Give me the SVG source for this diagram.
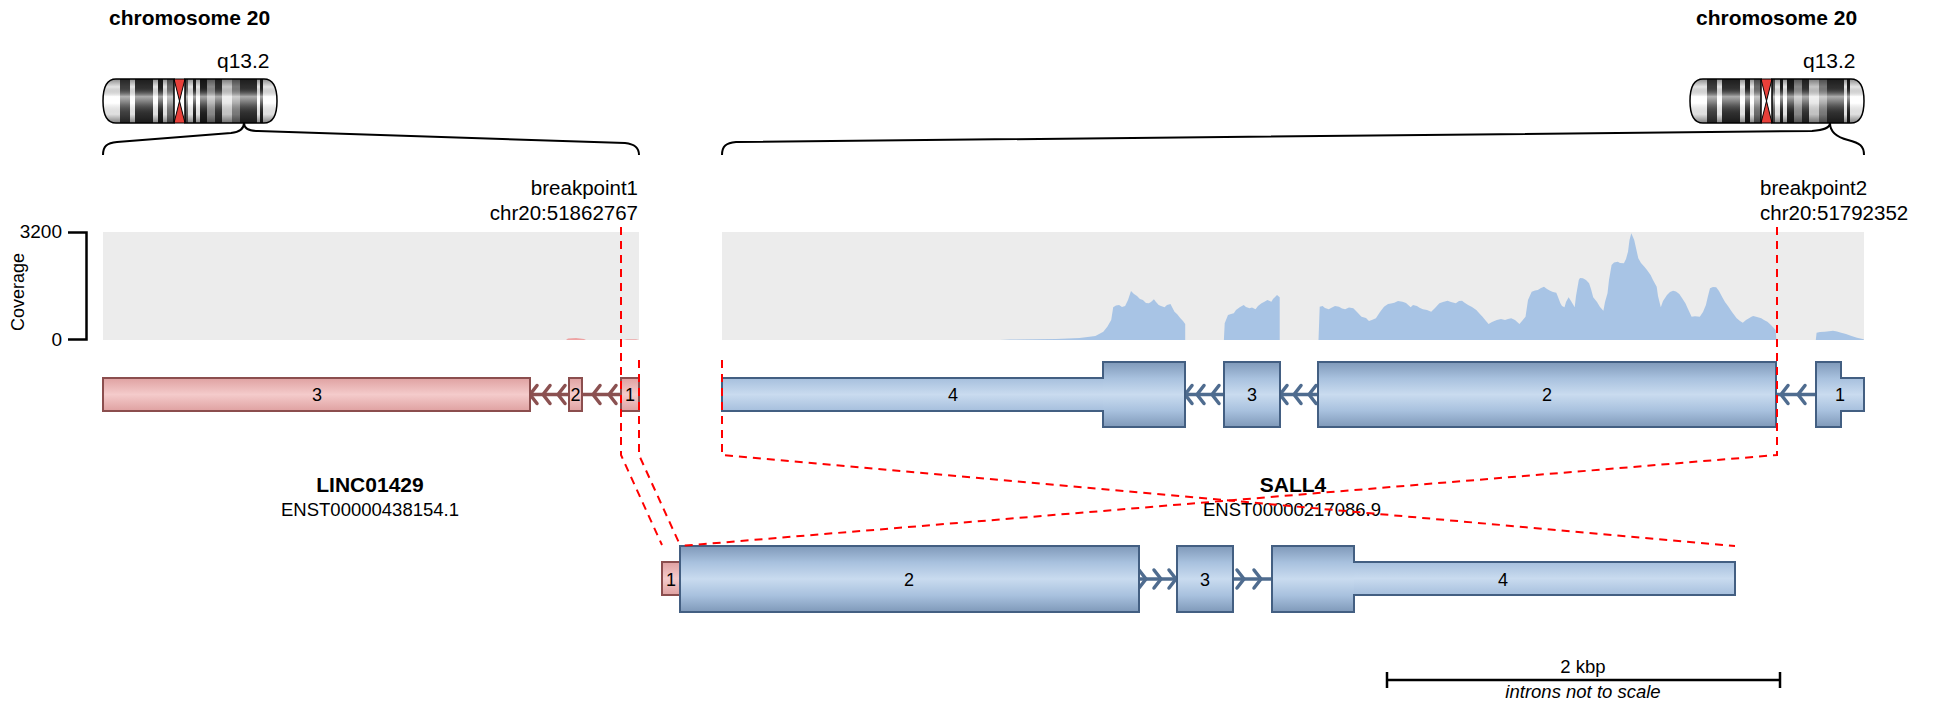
<svg xmlns="http://www.w3.org/2000/svg" xmlns:xlink="http://www.w3.org/1999/xlink" width="1943" height="707" viewBox="0 0 1943 707">
  <style>
    .t { font-family: "Liberation Sans", Arial, sans-serif; fill: #000; }
    .title { font-size: 21px; font-weight: bold; }
    .band { font-size: 21px; }
    .bp { font-size: 20.5px; }
    .ax { font-size: 19px; text-anchor: end; }
    .ex { font-size: 18px; text-anchor: middle; }
    .gn { font-size: 21px; font-weight: bold; text-anchor: middle; }
    .tx { font-size: 18.5px; text-anchor: middle; }
    .sc { font-size: 18.5px; text-anchor: middle; }
    .it { font-style: italic; }
    .bg { fill: #ececec; }
    .cov { fill: #a8c4e5; }
    .covL { fill: #eea3a3; }
    .axis { stroke: #000; stroke-width: 2.5; fill: none; }
    .brace { stroke: #000; stroke-width: 2; fill: none; }
    .exB { fill: url(#gBlue); }
    .exBt { fill: url(#gBlueThin); }
    .exP { fill: url(#gPink); }
    .olB { fill: none; stroke: #435f82; stroke-width: 2; }
    .olP { fill: none; stroke: #8b4e4e; stroke-width: 2; }
    .inB { stroke: #4f6c8f; stroke-width: 3.5; fill: none; }
    .inP { stroke: #8b5151; stroke-width: 3.5; fill: none; }
    .chB { stroke: #4f6c8f; stroke-width: 3.5; fill: none; stroke-linecap: round; stroke-linejoin: round; }
    .chP { stroke: #8b5151; stroke-width: 3.5; fill: none; stroke-linecap: round; stroke-linejoin: round; }
    .dash { stroke: #ff0000; stroke-width: 2; fill: none; stroke-dasharray: 8 6; }
  </style>
  <defs>
    <linearGradient id="gBlue" x1="0" y1="0" x2="0" y2="1">
      <stop offset="0" stop-color="#7f99b9"/>
      <stop offset="0.25" stop-color="#a8c1de"/>
      <stop offset="0.5" stop-color="#c9dbef"/>
      <stop offset="0.75" stop-color="#a8c1de"/>
      <stop offset="1" stop-color="#7f99b9"/>
    </linearGradient>
    <linearGradient id="gBlueThin" x1="0" y1="0" x2="0" y2="1">
      <stop offset="0" stop-color="#a6bfdd"/>
      <stop offset="0.5" stop-color="#c9dbef"/>
      <stop offset="1" stop-color="#a6bfdd"/>
    </linearGradient>
    <linearGradient id="gPink" x1="0" y1="0" x2="0" y2="1">
      <stop offset="0" stop-color="#dfa1a1"/>
      <stop offset="0.5" stop-color="#f4cbcb"/>
      <stop offset="1" stop-color="#dfa1a1"/>
    </linearGradient>
    <linearGradient id="gShade" x1="0" y1="0" x2="0" y2="1">
      <stop offset="0" stop-color="#000" stop-opacity="0.45"/>
      <stop offset="0.18" stop-color="#000" stop-opacity="0.1"/>
      <stop offset="0.4" stop-color="#fff" stop-opacity="0.6"/>
      <stop offset="0.55" stop-color="#fff" stop-opacity="0.3"/>
      <stop offset="0.8" stop-color="#000" stop-opacity="0.12"/>
      <stop offset="1" stop-color="#000" stop-opacity="0.5"/>
    </linearGradient>
    <clipPath id="armClip">
      <path d="M174,79 L116,79 C106,79 103,90 103,101 C103,112 106,123 116,123 L174,123 Z"/>
      <path d="M185,79 L264,79 C274,79 277,90 277,101 C277,112 274,123 264,123 L185,123 Z"/>
    </clipPath>
    <!-- chromosome 20 ideogram, drawn at the left position -->
    <g id="ideogram">
      <g clip-path="url(#armClip)">
        <rect x="103" y="79" width="174" height="44" fill="#ffffff"/>
        <rect x="120" y="79" width="10" height="44" fill="#444"/>
        <rect x="135" y="79" width="18" height="44" fill="#333"/>
        <rect x="158" y="79" width="5" height="44" fill="#222"/>
        <rect x="167" y="79" width="7" height="44" fill="#777"/>
        <rect x="185" y="79" width="3" height="44" fill="#666"/>
        <rect x="193" y="79" width="3" height="44" fill="#222"/>
        <rect x="200" y="79" width="7" height="44" fill="#222"/>
        <rect x="207" y="79" width="8" height="44" fill="#999"/>
        <rect x="215" y="79" width="7" height="44" fill="#333"/>
        <rect x="222" y="79" width="10" height="44" fill="#ddd"/>
        <rect x="232" y="79" width="8" height="44" fill="#888"/>
        <rect x="240" y="79" width="17" height="44" fill="#333"/>
        <rect x="260" y="79" width="3" height="44" fill="#222"/>
        <rect x="103" y="79" width="174" height="44" fill="url(#gShade)"/>
      </g>
      <path d="M174,79 L185,79 L179.5,101 L185,123 L174,123 L179.5,101 Z" fill="#e8403a" stroke="#000" stroke-width="1"/>
      <path d="M174,79 L116,79 C106,79 103,90 103,101 C103,112 106,123 116,123 L174,123 Z" fill="none" stroke="#000" stroke-width="1.5"/>
      <path d="M185,79 L264,79 C274,79 277,90 277,101 C277,112 274,123 264,123 L185,123 Z" fill="none" stroke="#000" stroke-width="1.5"/>
    </g>
    <path id="chevL" d="M4,-9 L-3,0 L4,9"/>
    <path id="chevR" d="M-4,-9 L3,0 L-4,9"/>
  </defs>

  <rect x="0" y="0" width="1943" height="707" fill="#ffffff"/>

  <!-- chromosome headers -->
  <g id="chrom-left">
    <text class="t title" x="109" y="25">chromosome 20</text>
    <text class="t band" x="217" y="68">q13.2</text>
    <use xlink:href="#ideogram"/>
    <path class="brace" d="M103,155 C103,146 107,143 117,142 L231,133 C240,132 244,129 244,123 C244,129 249,131 258,131 L625,143 C634,144 639,147 639,155"/>
  </g>
  <g id="chrom-right">
    <text class="t title" x="1696" y="25">chromosome 20</text>
    <text class="t band" x="1803" y="68">q13.2</text>
    <use xlink:href="#ideogram" transform="translate(1587,0)"/>
    <path class="brace" d="M722,155 C722,146 726,143 736,142 L1812,131 C1824,130 1830,128 1830,123 C1830,131 1836,137 1848,140 C1860,143 1864,146 1864,155"/>
  </g>

  <!-- breakpoint labels -->
  <g id="bp1-label">
    <text class="t bp" x="638" y="195" text-anchor="end">breakpoint1</text>
    <text class="t bp" x="638" y="220" text-anchor="end">chr20:51862767</text>
  </g>
  <g id="bp2-label">
    <text class="t bp" x="1760" y="195">breakpoint2</text>
    <text class="t bp" x="1760" y="220">chr20:51792352</text>
  </g>

  <!-- coverage track -->
  <g id="coverage">
    <rect class="bg" x="103" y="232" width="536" height="108"/>
    <rect class="bg" x="722" y="232" width="1142" height="108"/>
    <path class="covL" d="M566,340 L568,338.5 576,338 584,339 586,340 Z"/>
    <path class="covL" d="M624,340 L627,339.2 636,339.2 639,340 Z"/>
    <path class="cov" d="M1000,340 L1010,339.5 1055.9,339 1079.6,338 1095.4,336 1103.3,331.7 1107.3,326.7 1111.2,320 1113.2,307.3 1116,305.5 1119.1,305 1122,307 1125.1,306 1128,300 1131,291 1134,294 1137,296 1140,299 1142.9,300 1146,303 1148.8,303.3 1151,302 1153.9,299.3 1156,302 1158.7,305 1161,306 1164.6,307.3 1167,305 1170.5,304 1172,307 1174.5,311.7 1177,314 1180.4,318.3 1183,321 1185.2,324 1185.2,340 Z"/>
    <path class="cov" d="M1223.9,340 L1224.7,323.3 1228,315 1231,314 1233.8,313.3 1236,310 1239.7,307.3 1243.7,305 1246,307 1249.6,308.3 1252,307.5 1255.5,309.3 1258,306 1261.5,303.3 1264,302 1267.4,300 1271.4,301.7 1273,299 1275.3,296.7 1277,295 1279.7,297.3 1279.7,340 Z"/>
    <path class="cov" d="M1318.5,340 L1319.7,306.7 1322.6,306 1325,308 1328.7,309.3 1332,307.5 1335,306 1339,306.7 1342,308.5 1345.1,309.3 1349,307.5 1353.3,308.3 1357,312 1361.5,316.7 1366,318 1369,321 1371.8,320 1375.9,318.3 1380,312 1384,306.7 1388,304 1391,303.5 1394.3,302.7 1398,301 1402.5,301.7 1406,303 1410.7,307.3 1413,305 1416.9,306 1420,308 1423,309.3 1427,310 1431.2,311.7 1435,308 1439.4,303.3 1443,302 1447.6,300.7 1451,302 1455.8,303.3 1459,301 1462,300.7 1465,303 1468.1,305 1472,307 1476.3,310 1479,313 1482.5,316.7 1486,321 1488.6,324 1492,322 1496.8,320 1501,319 1505,320 1508,319 1511.2,318.3 1515,320 1519.4,324 1522,321 1525.5,316.7 1528,300 1531.7,291.7 1535,290.5 1537.8,290 1541,288 1544,286.7 1547,289 1550.1,290.7 1553,292 1556.3,292.7 1558,297 1560.4,303.3 1562,306 1564.5,307.3 1566,302 1568.6,297.3 1571,301 1574.7,307.3 1576,296 1578.8,280 1580,278 1582.9,278.3 1586,280 1589.1,283.3 1591,289 1593.2,297.3 1597,302 1600,307 1603.4,310.7 1605,302 1607.5,293.3 1609,280 1611.6,265 1614,262.5 1617.8,261.7 1620,263 1623.9,263.3 1626,259 1628,251.7 1629.5,240 1631.3,233.3 1632.5,236 1634.2,240 1636,248 1638.3,258.3 1641,263 1644.4,266.7 1647,270 1650.6,275 1653,280 1656.7,286.7 1658,296 1660.8,307.3 1663,301 1667,295 1670,292 1673.1,290.7 1676,291.5 1679.3,294 1682,298 1685.4,303.3 1688,309 1691.6,316.7 1695,316.2 1699.8,316.7 1703,312 1705.9,305 1708,296 1710,288.3 1713,287 1716.2,287.3 1719,291 1722.3,297.3 1725,302 1728.5,306.7 1732,312 1736.7,318.3 1740,321 1742.8,322.7 1746,320 1749,318.3 1751,317 1753.1,316 1757,317 1761.3,318.3 1764,320 1767.4,321.7 1771,325 1775.6,330 1776.4,340 Z"/>
    <path class="cov" d="M1815.8,340 L1816.6,332.7 1820,332 1824.8,331.7 1829,331.2 1833,330.7 1837,331.5 1841.2,332.7 1846,334 1851.5,336 1857,337.8 1863.7,339.3 1864,340 Z"/>
  </g>

  <!-- coverage axis -->
  <g id="coverage-axis">
    <path class="axis" d="M68,232.5 H86.5 V339.5 H68"/>
    <text class="t ax" x="62" y="238">3200</text>
    <text class="t ax" x="62" y="346">0</text>
    <text class="t" font-size="18" text-anchor="middle" transform="translate(24,292) rotate(-90)">Coverage</text>
  </g>

  <!-- LINC01429 transcript -->
  <g id="gene-linc01429">
    <line class="inP" x1="530" y1="394.5" x2="569" y2="394.5"/>
    <line class="inP" x1="582" y1="394.5" x2="621" y2="394.5"/>
    <use xlink:href="#chevL" class="chP" x="533" y="394.5"/>
    <use xlink:href="#chevL" class="chP" x="546" y="394.5"/>
    <use xlink:href="#chevL" class="chP" x="561" y="394.5"/>
    <use xlink:href="#chevL" class="chP" x="596" y="394.5"/>
    <use xlink:href="#chevL" class="chP" x="612" y="394.5"/>
    <rect class="exP" x="103" y="378" width="427" height="33"/>
    <rect class="olP" x="103" y="378" width="427" height="33"/>
    <rect class="exP" x="569" y="378" width="13" height="33"/>
    <rect class="olP" x="569" y="378" width="13" height="33"/>
    <rect class="exP" x="621" y="378" width="18" height="33"/>
    <rect class="olP" x="621" y="378" width="18" height="33"/>
    <text class="t ex" x="317" y="401">3</text>
    <text class="t ex" x="575.5" y="401">2</text>
    <text class="t ex" x="630" y="401">1</text>
    <text class="t gn" x="370" y="492">LINC01429</text>
    <text class="t tx" x="370" y="516">ENST00000438154.1</text>
  </g>

  <!-- SALL4 transcript -->
  <g id="gene-sall4">
    <line class="inB" x1="1185" y1="394.5" x2="1224" y2="394.5"/>
    <line class="inB" x1="1280" y1="394.5" x2="1318" y2="394.5"/>
    <line class="inB" x1="1776" y1="394.5" x2="1816" y2="394.5"/>
    <use xlink:href="#chevL" class="chB" x="1188" y="394.5"/>
    <use xlink:href="#chevL" class="chB" x="1200" y="394.5"/>
    <use xlink:href="#chevL" class="chB" x="1215" y="394.5"/>
    <use xlink:href="#chevL" class="chB" x="1283" y="394.5"/>
    <use xlink:href="#chevL" class="chB" x="1297" y="394.5"/>
    <use xlink:href="#chevL" class="chB" x="1312" y="394.5"/>
    <use xlink:href="#chevL" class="chB" x="1784" y="394.5"/>
    <use xlink:href="#chevL" class="chB" x="1801" y="394.5"/>
    <rect class="exBt" x="722" y="378" width="381" height="33"/>
    <rect class="exB" x="1103" y="362" width="82" height="65"/>
    <path class="olB" d="M722,378 H1103 V362 H1185 V427 H1103 V411 H722 Z"/>
    <rect class="exB" x="1224" y="362" width="56" height="65"/>
    <rect class="olB" x="1224" y="362" width="56" height="65"/>
    <rect class="exB" x="1318" y="362" width="458" height="65"/>
    <rect class="olB" x="1318" y="362" width="458" height="65"/>
    <rect class="exB" x="1816" y="362" width="25" height="65"/>
    <rect class="exBt" x="1841" y="378" width="23" height="33"/>
    <path class="olB" d="M1816,362 H1841 V378 H1864 V411 H1841 V427 H1816 Z"/>
    <text class="t ex" x="953" y="401">4</text>
    <text class="t ex" x="1252" y="401">3</text>
    <text class="t ex" x="1547" y="401">2</text>
    <text class="t ex" x="1840" y="401">1</text>
    <text class="t gn" x="1293" y="492">SALL4</text>
    <text class="t tx" x="1292" y="516">ENST00000217086.9</text>
  </g>

  <!-- fusion transcript -->
  <g id="fusion-transcript">
    <line class="inB" x1="1139" y1="579" x2="1177" y2="579"/>
    <line class="inB" x1="1233" y1="579" x2="1272" y2="579"/>
    <use xlink:href="#chevR" class="chB" x="1143" y="579"/>
    <use xlink:href="#chevR" class="chB" x="1158" y="579"/>
    <use xlink:href="#chevR" class="chB" x="1173" y="579"/>
    <use xlink:href="#chevR" class="chB" x="1241" y="579"/>
    <use xlink:href="#chevR" class="chB" x="1258" y="579"/>
    <rect class="exP" x="662" y="562" width="18" height="33"/>
    <rect class="olP" x="662" y="562" width="18" height="33"/>
    <rect class="exB" x="680" y="546" width="459" height="66"/>
    <rect class="olB" x="680" y="546" width="459" height="66"/>
    <rect class="exB" x="1177" y="546" width="56" height="66"/>
    <rect class="olB" x="1177" y="546" width="56" height="66"/>
    <rect class="exB" x="1272" y="546" width="82" height="66"/>
    <rect class="exBt" x="1354" y="562" width="381" height="33"/>
    <path class="olB" d="M1272,546 H1354 V562 H1735 V595 H1354 V612 H1272 Z"/>
    <text class="t ex" x="671" y="585.5">1</text>
    <text class="t ex" x="909" y="585.5">2</text>
    <text class="t ex" x="1205" y="585.5">3</text>
    <text class="t ex" x="1503" y="585.5">4</text>
  </g>

  <!-- scale bar -->
  <g id="scale-bar">
    <path class="axis" d="M1387,672 V688 M1387,680 H1780 M1780,672 V688"/>
    <text class="t sc" x="1583" y="673">2 kbp</text>
    <text class="t sc it" x="1583" y="698">introns not to scale</text>
  </g>

  <!-- breakpoint guides and projections onto the fusion -->
  <g id="connectors">
    <path class="dash" d="M621,227 V455 L662,545"/>
    <path class="dash" d="M639,360 V455 L680,545"/>
    <path class="dash" d="M722,360 V455 L1735,546"/>
    <path class="dash" d="M1777,227 V455 L680,546"/>
  </g>
</svg>
